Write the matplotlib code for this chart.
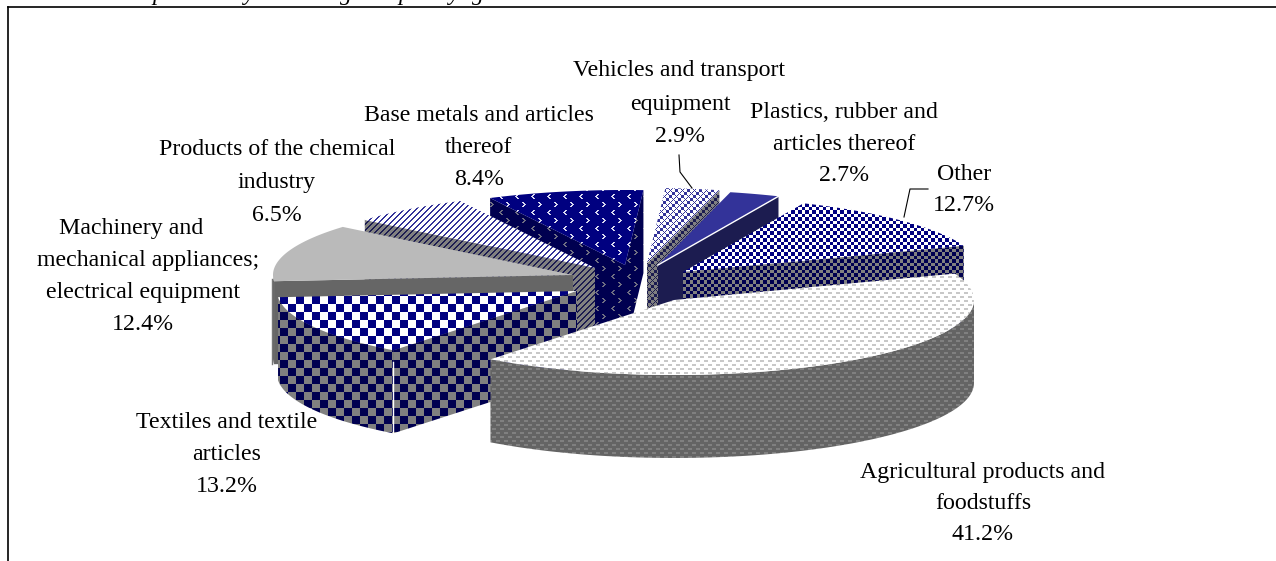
import numpy as np
import matplotlib
matplotlib.use("Agg")
import matplotlib.pyplot as plt
from matplotlib.patches import Polygon

# Shares of the total, in percent, clockwise from the largest slice
categories = ["Agricultural products and foodstuffs", "Textiles and textile articles",
              "Machinery and mechanical appliances; electrical equipment",
              "Products of the chemical industry", "Base metals and articles thereof",
              "Vehicles and transport equipment", "Plastics, rubber and articles thereof", "Other"]
shares = [41.2, 13.2, 12.4, 6.5, 8.4, 2.9, 2.7, 12.7]

# Label text per slice: one entry per printed line
label_lines = [["Agricultural products and", "foodstuffs", "41.2%"],
               ["Textiles and textile", "articles", "13.2%"],
               ["Machinery and", "mechanical appliances;", "electrical equipment", "12.4%"],
               ["Products of the chemical", "industry", "6.5%"],
               ["Base metals and articles", "thereof", "8.4%"],
               ["Vehicles and transport", "equipment", "2.9%"],
               ["Plastics, rubber and", "articles thereof", "2.7%"],
               ["Other", "12.7%"]]

# Layout, in pixels from the top-left corner of the canvas
W, H = 1276, 561
RX, RY, DEPTH = 300, 75, 83
START_ANGLE = -20.6
apexes = [(674, 300), (577, 291), (573, 275), (595, 268),
          (625, 265), (647, 263), (658, 265), (683, 272)]
label_xs = [[983, 983, 983], [227, 227, 227], [131, 148, 143, 143], [277, 277, 277],
            [479, 479, 479], [679, 680, 680], [844, 844, 844], [964, 964]]
label_ys = [[472, 503, 535], [422, 454, 486], [228, 260, 292, 324], [149, 182, 215],
            [115, 147, 179], [70, 104, 136], [112, 144, 175], [174, 205]]
# Slices are painted from the back of the pie to the front
paint_order = [5, 6, 7, 4, 3, 2, 1, 0]

NAVY = (0, 0, 128)
BLUE = (51, 51, 153)
WHITE = (255, 255, 255)
GREY = (128, 128, 128)
DARK_NAVY = (0, 0, 80)
DARK_BLUE = (28, 28, 80)


def grid():
    return np.mgrid[0:H, 0:W]


def paint(mask, on, off):
    out = np.empty((H, W, 3), dtype=np.uint8)
    out[mask] = on
    out[~mask] = off
    return out


def checks(period, on, off):
    y, x = grid()
    return paint(((x * 2 // period) + (y * 2 // period)) % 2 == 0, on, off)


def dashes(on, off):
    y, x = grid()
    mask = ((y % 8 < 2) & (x % 8 < 4)) | ((y % 8 >= 4) & (y % 8 < 6) & (x % 8 >= 4))
    return paint(mask, on, off)


def stripes(on, off):
    y, x = grid()
    return paint((x + y) % 6 < 2, on, off)


def chevrons(on, off):
    y, x = grid()
    mask = np.zeros((16, 16), dtype=bool)
    for dx, dy in [(2, 0), (3, 0), (1, 1), (2, 1), (0, 2), (1, 2), (1, 3), (2, 3), (2, 4), (3, 4)]:
        mask[2 + dy, 3 + dx] = True
        mask[10 + dy, 13 - dx] = True
    return paint(mask[y % 16, x % 16], on, off)


def weave(on, off):
    y, x = grid()
    step = ((x // 3) + (y // 3)) % 4
    fine = (x + y) % 2 == 0
    return paint((step == 0) | (fine & (step == 2)), on, off)


def flat(colour):
    return np.full((H, W, 3), colour, dtype=np.uint8)


top_fill = [dashes((200, 200, 200), WHITE), checks(16, NAVY, WHITE), flat((186, 186, 186)),
            stripes(BLUE, WHITE), chevrons((215, 215, 240), NAVY), weave(BLUE, WHITE),
            flat(BLUE), checks(7, NAVY, WHITE)]
side_fill = [dashes((128, 128, 128), (100, 100, 100)), checks(16, DARK_NAVY, GREY), flat((102, 102, 102)),
             stripes(DARK_BLUE, GREY), chevrons((110, 110, 130), DARK_NAVY), weave(DARK_BLUE, GREY),
             flat(DARK_BLUE), checks(7, DARK_NAVY, GREY)]

plt.rcParams["font.family"] = ["Liberation Serif", "DejaVu Serif"]
fig = plt.figure(figsize=(W / 100, H / 100), dpi=100)
ax = fig.add_axes([0, 0, 1, 1])
ax.axis("off")


def fill_region(points, texture, zorder):
    patch = Polygon(points, closed=True, facecolor="none", edgecolor="none", transform=ax.transData)
    ax.add_patch(patch)
    image = ax.imshow(texture, extent=(0, W, H, 0), origin="upper", aspect="auto",
                      interpolation="nearest", zorder=zorder)
    image.set_clip_path(patch)


def rim_point(centre, angle):
    a = np.radians(angle)
    return centre[0] + RX * np.cos(a), centre[1] + RY * np.sin(a)


def drop(points):
    return [(px, py + DEPTH) for px, py in points]


totals = np.cumsum([0.0] + shares) * 360.0 / sum(shares)
starts = START_ANGLE + totals[:-1]
ends = START_ANGLE + totals[1:]

z = 2
for i in paint_order:
    apex, t0, t1 = apexes[i], starts[i], ends[i]
    arc = [rim_point(apex, t) for t in np.linspace(t0, t1, 80)]
    # Cut faces that turn towards the viewer
    if np.sin(np.radians(t0 - 90)) > 0:
        edge = [apex, arc[0]]
        fill_region(edge + drop(edge)[::-1], side_fill[i], z)
        z += 1
    if np.sin(np.radians(t1 + 90)) > 0:
        edge = [apex, arc[-1]]
        fill_region(edge + drop(edge)[::-1], side_fill[i], z)
        z += 1
    # Curved outer wall, front half only
    if t1 > 0 and t0 < 180:
        front = [rim_point(apex, t) for t in np.linspace(max(t0, 0), min(t1, 180), 80)]
        fill_region(front + drop(front)[::-1], side_fill[i], z)
        z += 1
    # Top face
    fill_region([apex] + arc, top_fill[i], z)
    z += 1
    # Pale seams: front corner of the textiles wall, plastics edge, machinery rim
    if i == 1:
        cx, cy = arc[0]
        ax.plot([cx, cx], [cy + 12, cy + DEPTH], color="white", lw=1.0, zorder=z)
        z += 1
    if i == 6:
        ax.plot([apex[0], arc[-1][0]], [apex[1], arc[-1][1]], color="white", lw=1.0, zorder=z)
        z += 1
    if i == 2:
        cx, cy = arc[0]
        ax.plot([cx - 2, cx - 2], [cy - 2, cy + DEPTH], color="#777777", lw=1.0, zorder=z)
        z += 1

# Slice labels
for lines, xs, ys in zip(label_lines, label_xs, label_ys):
    for text, lx, ly in zip(lines, xs, ys):
        ax.text(lx, ly, text, ha="center", va="center", fontsize=17.2, color="black", zorder=200)

# Leader lines for the two labels set away from their slices
ax.plot([679, 680, 692], [155, 172, 188], color="black", lw=0.8, zorder=200)
ax.plot([928, 910, 904], [189, 189, 217], color="black", lw=0.8, zorder=200)

# Outer frame of the chart area
ax.plot([8, 8], [H, 7], color="black", lw=1.2, zorder=210)
ax.plot([8, W], [7, 7], color="black", lw=1.2, zorder=210)

# Caption running off the top of the canvas
for cx, ch in zip([158, 249, 346, 404, 454, 478], "pygpyg"):
    ax.text(cx, 0, ch, style="italic", fontsize=17, ha="center", va="baseline", zorder=220)

ax.set_xlim(0, W)
ax.set_ylim(H, 0)
fig.savefig("out.png", dpi=100)
